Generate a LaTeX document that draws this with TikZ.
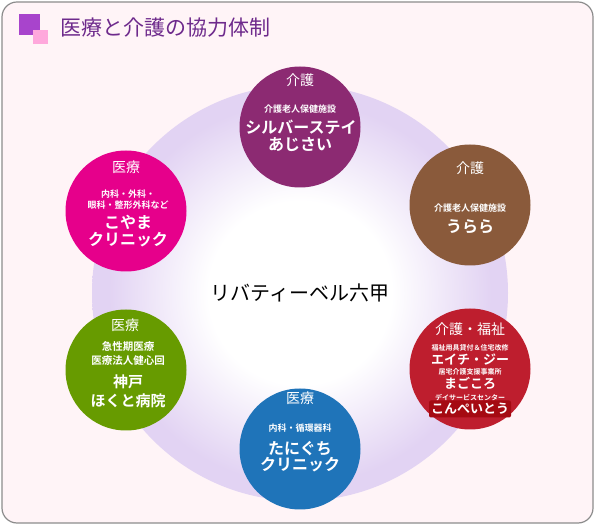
\documentclass[tikz,border=0pt]{standalone}
\usepackage{fontspec}
\newfontfamily\jpfont{Noto Sans CJK JP}[BoldFont={Noto Sans CJK JP Bold}]
\newcommand\jpsize[1]{\jpfont\fontsize{#1}{#1}\selectfont}
\definecolor{framebg}{HTML}{FFF4F7}
\definecolor{framerim}{HTML}{8C8C8C}
\definecolor{titlepurple}{HTML}{6E2A8C}
\definecolor{sqpurple}{HTML}{A844CC}
\definecolor{sqpink}{HTML}{FFA8DC}
\definecolor{hubrim}{HTML}{E2D3F3}
\definecolor{silvercol}{HTML}{8C2A72}
\definecolor{uraracol}{HTML}{8A5A3B}
\definecolor{koyamacol}{HTML}{E6008B}
\definecolor{hokutocol}{HTML}{679B00}
\definecolor{hgcol}{HTML}{BE1E2E}
\definecolor{konpeicol}{HTML}{A50A12}
\definecolor{taniguchicol}{HTML}{1F74B9}
\pgfdeclareradialshading{hubglow}{\pgfpoint{0bp}{0bp}}{color(0bp)=(white); color(11bp)=(white); color(23bp)=(hubrim); color(25bp)=(hubrim); color(50bp)=(hubrim)}
\begin{document}
\begin{tikzpicture}[x=1pt,y=-1pt,
  org/.style={circle,minimum size=121pt,inner sep=0pt},
  orghead/.style={text=white,font=\jpsize{14}},
  orgnote/.style={text=white,font={\jpsize{9}\bfseries}},
  orgsmall/.style={text=white,font={\jpsize{7}\bfseries}},
  orgname/.style={text=white,font={\jpsize{16}\bfseries}}]
  \useasboundingbox (0,0) rectangle (595,526);
  % frame and title
  \draw[framerim,fill=framebg,rounded corners=15,line width=1.2pt] (2,2) rectangle (593,523);
  \fill[sqpurple] (19,14) rectangle (40,35);
  \fill[sqpink] (33,30) rectangle (48,44);
  \node[anchor=west,text=titlepurple,font=\jpsize{21},inner sep=0pt] (title) at (60,28) {医療と介護の協力体制};
  % hub
  \node[circle,minimum size=416pt,shading=hubglow,font=\jpsize{20}] (hub) at (300,293) {リバティーベル六甲};
  % organisations
  \node[org,fill=silvercol] (silver) at (300,127) {};
  \node[org,fill=uraracol] (urara) at (470,205) {};
  \node[org,fill=koyamacol] (koyama) at (126,211) {};
  \node[org,fill=hokutocol] (hokuto) at (126,370) {};
  \node[org,fill=hgcol] (hg) at (470,369) {};
  \node[org,fill=taniguchicol] (taniguchi) at (300,449) {};
  % silver stay
  \node[orghead] (silverhead) at (300,80) {介護};
  \node[orgnote] (silvernote) at (300,109) {介護老人保健施設};
  \node[orgname] (silvername) at (301,127) {シルバーステイ};
  \node[orgname] (silvername2) at (300,145) {あじさい};
  % urara
  \node[orghead] (urarahead) at (470,168) {介護};
  \node[orgnote] (uraranote) at (470,208) {介護老人保健施設};
  \node[orgname] (uraraname) at (470,227) {うらら};
  % koyama
  \node[orghead] (koyamahead) at (126,167) {医療};
  \node[orgnote] (koyamanote) at (128,194) {内科・外科・};
  \node[orgnote] (koyamanote2) at (128,205) {眼科・整形外科など};
  \node[orgname] (koyamaname) at (128,222) {こやま};
  \node[orgname] (koyamaname2) at (128,240) {クリニック};
  % hokuto
  \node[orghead] (hokutohead) at (125,325) {医療};
  \node[orgnote,font={\jpsize{10.5}\bfseries}] (hokutonote) at (128,346) {急性期医療};
  \node[orgnote,font={\jpsize{10.5}\bfseries}] (hokutonote2) at (128,361) {医療法人健心回};
  \node[orgname,font={\jpsize{15}\bfseries}] (hokutoname) at (128,382) {神戸};
  \node[orgname,font={\jpsize{15}\bfseries}] (hokutoname2) at (128,401) {ほくと病院};
  % h.g. / magokoro / konpeito
  \node[orghead] (hghead) at (470,329) {介護・福祉};
  \node[orgsmall] (hgnote) at (470,348) {福祉用具貸付＆住宅改修};
  \node[orgname,font={\jpsize{13}\bfseries}] (hgname) at (470,360) {エイチ・ジー};
  \node[orgsmall] (magokoronote) at (470,372) {居宅介護支援事業所};
  \node[orgname,font={\jpsize{13}\bfseries}] (magokoroname) at (470,383) {まごころ};
  \node[orgsmall] (konpeinote) at (470,398) {デイサービスセンター};
  \node[orgname,font={\jpsize{13}\bfseries},fill=konpeicol,rounded corners=2pt,minimum width=82pt,minimum height=17pt,inner sep=0pt] (konpeiname) at (470,409) {こんぺいとう};
  % taniguchi
  \node[orghead] (taniguchihead) at (300,398) {医療};
  \node[orgnote] (taniguchinote) at (300,428) {内科・循環器科};
  \node[orgname] (taniguchiname) at (300,449) {たにぐち};
  \node[orgname] (taniguchiname2) at (300,465) {クリニック};
\end{tikzpicture}
\end{document}
